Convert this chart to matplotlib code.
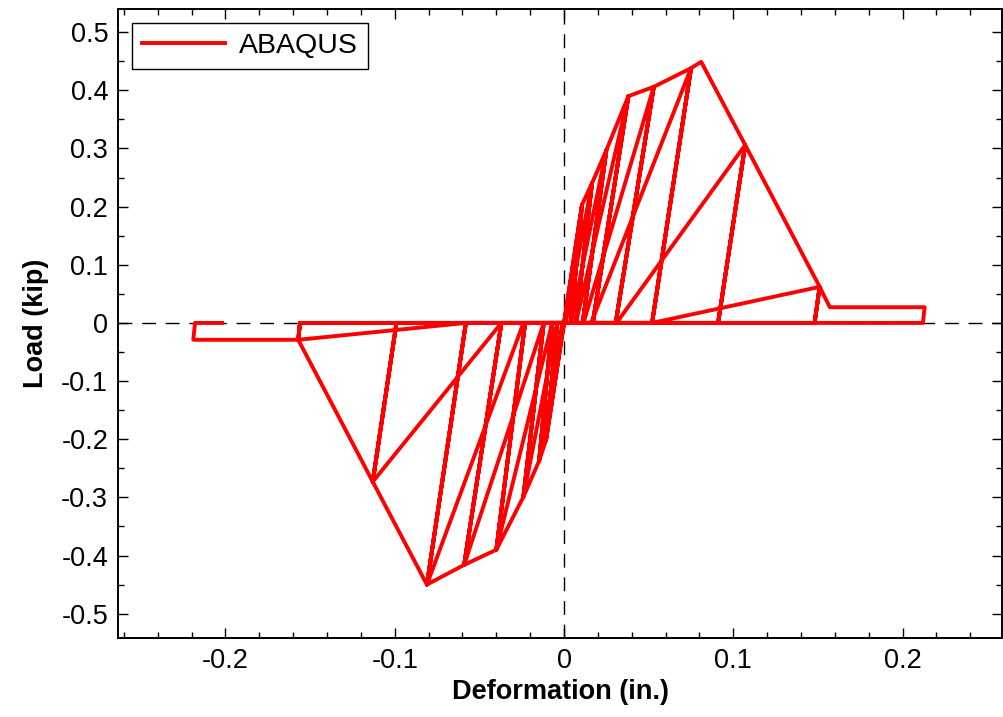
import matplotlib
matplotlib.use("Agg")
import matplotlib.pyplot as plt
from matplotlib.ticker import MultipleLocator

plt.rcParams['font.family'] = ['Liberation Sans', 'DejaVu Sans']
plt.rcParams['axes.unicode_minus'] = False

# positive side: cycle peaks (envelope points), unload ends, reload starts
pos_peak_x = [0.0106, 0.0165, 0.0250, 0.038, 0.053, 0.075, 0.107, 0.151, 0.213]
pos_peak_y = [0.203, 0.240, 0.297, 0.390, 0.406, 0.438, 0.306, 0.062, 0.027]
# extra envelope kinks passed on the way to the next peak
pos_kink = {6: [(0.081, 0.449)], 8: [(0.157, 0.027)]}
pos_unload = [0.004, 0.007, 0.011, 0.017, 0.0305, 0.052, 0.091, 0.148, 0.212]
pos_reload = [0.0, 0.001, 0.004, 0.007, 0.0115, 0.016, 0.031, 0.052]

# negative side
neg_peak_x = [-0.0106, -0.0147, -0.024, -0.040, -0.059, -0.081, -0.113, -0.157, -0.219]
neg_peak_y = [-0.201, -0.237, -0.299, -0.390, -0.416, -0.450, -0.273, -0.029, -0.029]
neg_kink = {}
neg_unload = [-0.004, -0.007, -0.012, -0.023, -0.037, -0.058, -0.099, -0.156, -0.218]
neg_reload = [0.0, -0.001, -0.004, -0.007, -0.012, -0.024, -0.037, -0.058]
final_x = -0.202

# build the load path cycle by cycle
dx, dy = [0.0], [0.0]
def go(x, y):
    dx.append(x)
    dy.append(y)

n = len(pos_peak_x)
for k in range(n):
    # first excursion: climb along previous unload branch, follow envelope
    if k > 0:
        go(pos_unload[k - 1], 0.0)
        go(pos_peak_x[k - 1], pos_peak_y[k - 1])
    for p in pos_kink.get(k, []):
        go(*p)
    go(pos_peak_x[k], pos_peak_y[k])
    go(pos_unload[k], 0.0)
    if k > 0:
        go(neg_unload[k - 1], 0.0)
        go(neg_peak_x[k - 1], neg_peak_y[k - 1])
    else:
        go(0.0, 0.0)
    for p in neg_kink.get(k, []):
        go(*p)
    go(neg_peak_x[k], neg_peak_y[k])
    go(neg_unload[k], 0.0)
    if k == n - 1:
        go(final_x, 0.0)
        break
    # second excursion at same amplitude
    go(pos_reload[k], 0.0)
    go(pos_peak_x[k], pos_peak_y[k])
    go(pos_unload[k], 0.0)
    go(neg_reload[k], 0.0)
    go(neg_peak_x[k], neg_peak_y[k])
    go(neg_unload[k], 0.0)

fig = plt.figure(figsize=(10.04, 7.17), dpi=100)
ax = fig.add_axes([0.1175, 0.110, 0.881, 0.8776])

ax.axhline(0, color='black', lw=1, ls=(0, (10, 7)), zorder=1)
ax.axvline(0, color='black', lw=1, ls=(0, (10, 7)), zorder=1)
ax.plot(dx, dy, color='red', lw=2.8, label='ABAQUS', zorder=2, solid_joinstyle='round')

ax.set_xlim(-0.2635, 0.259)
ax.set_ylim(-0.542, 0.540)
ax.xaxis.set_major_locator(MultipleLocator(0.1))
ax.xaxis.set_minor_locator(MultipleLocator(0.02))
ax.yaxis.set_major_locator(MultipleLocator(0.1))
ax.yaxis.set_minor_locator(MultipleLocator(0.05))
ax.xaxis.set_major_formatter(plt.FuncFormatter(lambda v, p: '0' if abs(v) < 1e-9 else f'{v:.1f}'))
ax.yaxis.set_major_formatter(plt.FuncFormatter(lambda v, p: '0' if abs(v) < 1e-9 else f'{v:.1f}'))
ax.tick_params(which='both', direction='in', top=True, right=True, labelsize=19.5, width=1)
ax.tick_params(which='major', length=7, pad=7)
ax.tick_params(which='minor', length=4)
for s in ax.spines.values():
    s.set_linewidth(1.4)

ax.set_xlabel('Deformation (in.)', fontsize=19.5, fontweight='bold', labelpad=4)
ax.set_ylabel('Load (kip)', fontsize=19.5, fontweight='bold', labelpad=9)

leg = ax.legend(loc='upper left', fontsize=20.5, fancybox=False, edgecolor='black',
                framealpha=1, handlelength=2.9, handletextpad=0.5, borderpad=0.35,
                borderaxespad=0.5)
leg.get_frame().set_linewidth(1)

fig.savefig('out.png', dpi=100)
